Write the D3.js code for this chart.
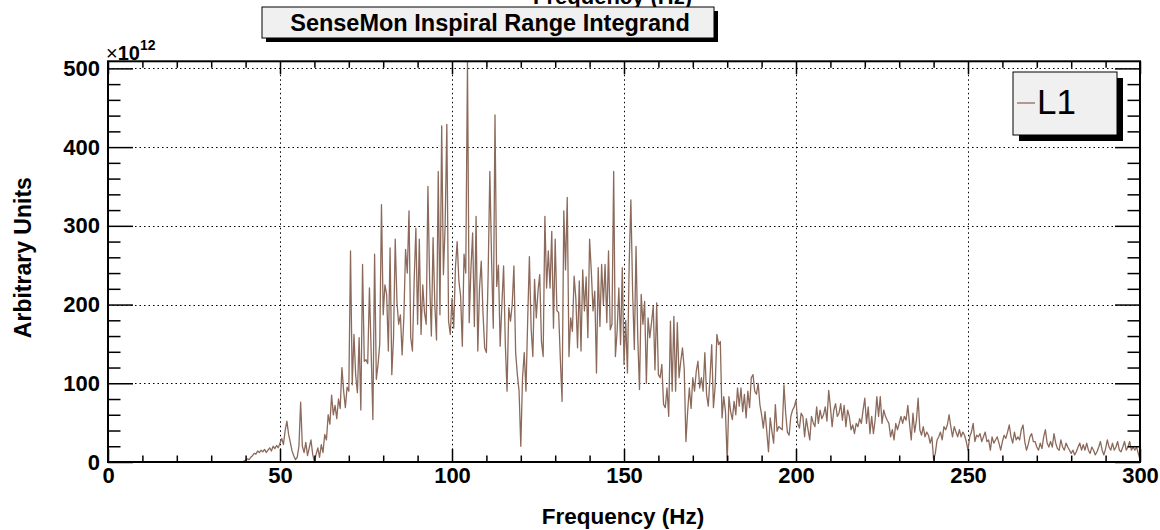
<!DOCTYPE html>
<html>
<head>
<meta charset="utf-8">
<script src="https://cdn.jsdelivr.net/npm/d3@7"></script>
<style>
  body { margin: 0; background: #fff; }
  svg { display: block; font-family: "Liberation Sans", Arial, sans-serif; }
</style>
</head>
<body>
<script>
// Inspiral range integrand, L1, sampled every 0.5 Hz from 38 Hz (flat zero below)
const freqStart = 38;
const freqStep = 0.5;

// 38 - 89.5 Hz
const riseValues = [
  0, 0, 0, 1, 2, 4, 3, 6, 8, 11, 10, 14, 12, 15, 13, 16, 12, 15, 18, 14, 20, 17, 21, 18,
  24, 30, 22, 40, 52, 35, 25, 14, 8, 3, 6, 20, 76, 20, 12, 25, 8, 18, 28, 10,
  0, 10, 18, 6, 22, 12, 35, 28, 60, 48,
  85, 60, 72, 55, 80, 68, 120, 90, 69, 95, 90, 268, 98, 162, 110, 88, 158, 66, 251, 128,
  130, 125, 221, 140, 54, 264, 105, 124, 150, 327, 187, 225, 213, 141, 272, 111, 158, 283, 203, 175,
  187, 136, 183, 270, 240, 319, 158, 141, 230, 297
];

// 90 - 141.5 Hz
const coreValues = [
  175, 283, 162, 225, 190, 175, 350, 230, 160, 285, 200, 155, 369, 187, 427, 238, 300, 429, 179, 162,
  208, 170, 247, 280, 230, 211, 147, 264, 240, 509, 177, 245, 291, 172, 312, 141, 221, 255, 190, 145,
  139, 237, 369, 258, 170, 441, 223, 250, 147, 200, 249, 150, 90, 196, 179, 200, 249, 139, 111, 90,
  20, 107, 139, 90, 180, 261, 170, 134, 232, 183, 217, 238, 153, 134, 312, 221, 268, 221, 293, 170,
  283, 192, 190, 130, 77, 319, 244, 336, 134, 183, 166, 236, 208, 145, 230, 141, 244, 192, 235, 158,
  283, 242, 192, 217
];

// 142 - 300 Hz
const tailValues = [
  113, 247, 172, 251, 200, 251, 177, 268, 168, 175,
  369, 134, 166, 221, 149, 247, 124, 180, 113, 251,
  333, 217, 143, 274, 158, 92, 213, 175, 204, 100,
  183, 158, 177, 198, 117, 202, 111, 107, 124, 73,
  69, 94, 58, 179, 90, 185, 90, 177, 107, 128,
  145, 119, 26, 64, 94, 68, 107, 90, 115, 128,
  94, 107, 90, 139, 86, 71, 107, 149, 69, 96,
  162, 149, 153, 56, 83, 64, 0, 83, 64, 54,
  77, 60, 94, 71, 94, 64, 86, 56, 90, 69,
  107, 111, 90, 86, 100, 73, 60, 43, 64, 39,
  13, 56, 39, 24, 73, 39,
  45, 43, 41, 98, 62, 38, 34, 58, 66, 70,
  79, 49, 43, 62, 58, 32, 55, 41, 28, 58,
  50, 45, 70, 49, 66, 55, 60, 70, 52, 91,
  70, 45, 66, 74, 58, 62,
  74, 53, 72, 45, 66, 58, 41, 47, 36, 49,
  45, 55, 49, 66, 81, 49, 70, 36, 58, 36,
  53, 83, 58, 83, 49, 66, 58, 53, 49, 32,
  41, 28, 49, 41, 49, 58, 49, 58, 53, 72,
  49, 28, 62, 38, 53, 81, 41, 34, 45, 32,
  38, 34, 24, 32, 3, 11, 28, 32, 38, 28,
  45, 41, 47, 60, 45, 32, 45, 38, 32, 41,
  32, 38, 34, 26, 15, 32, 38, 49, 26, 34,
  32, 36, 26, 32, 38, 26, 28, 15, 32, 24,
  28, 32, 24, 15, 26, 34, 30, 38, 47, 32,
  24, 38, 28, 32, 28, 41, 47, 26, 15, 22,
  32, 36, 26, 26, 19, 15, 24, 17, 32, 41,
  24, 19, 26, 19, 36, 24, 17, 15, 28, 19,
  15, 24, 19, 15, 11, 15, 9, 13, 19, 24,
  15, 22, 15, 24, 15, 11, 19, 15, 9, 13,
  19, 26, 15, 9, 17, 28, 19, 15, 24, 15,
  19, 26, 15, 13, 19, 26, 15, 19, 26, 15,
  19, 15, 19, 11, 3
];

const xMajor = [0, 50, 100, 150, 200, 250, 300];
const xMinor = d3.range(0, 301, 10).filter(d => d % 50 !== 0);
const yMajor = [0, 100, 200, 300, 400, 500];
const yMinor = d3.range(0, 509, 20).filter(d => d % 100 !== 0);

const titleText = "SenseMon Inspiral Range Integrand";
const legendLabel = "L1";
const lineColor = "#8c6a5b";

const values = riseValues.concat(coreValues, tailValues);
const data = [{f: 0, v: 0}].concat(values.map((v, i) => ({f: freqStart + i * freqStep, v})));

// dimensions
const width = 1160, height = 530;
const plotLeft = 108, plotRight = 1140, plotTop = 61.3, plotBottom = 462;

const x = d3.scaleLinear([0, 300], [plotLeft, plotRight]);
const y = d3.scaleLinear([0, 509], [plotBottom, plotTop]);

const svg = d3.select("body").append("svg")
    .attr("width", width)
    .attr("height", height)
    .attr("viewBox", [0, 0, width, height]);

// top title hidden behind the title box, only its lower edge shows
svg.append("text")
    .attr("x", 692).attr("y", 4)
    .attr("text-anchor", "end")
    .attr("font-weight", "bold")
    .attr("font-size", 22)
    .text("Frequency (Hz)");

// grid
const grid = svg.append("g")
    .attr("stroke", "#000")
    .attr("stroke-width", 1)
    .attr("stroke-dasharray", "1.5,3");
grid.selectAll(".gx").data(xMajor.filter(d => d > 0 && d < 300)).join("line")
    .attr("x1", d => x(d) + 0.5).attr("x2", d => x(d) + 0.5)
    .attr("y1", plotTop).attr("y2", plotBottom);
grid.selectAll(".gy").data(yMajor.filter(d => d > 0)).join("line")
    .attr("x1", plotLeft).attr("x2", plotRight)
    .attr("y1", d => Math.round(y(d)) + 0.5).attr("y2", d => Math.round(y(d)) + 0.5);

// curve
svg.append("clipPath").attr("id", "plot")
  .append("rect").attr("x", plotLeft).attr("y", plotTop)
    .attr("width", plotRight - plotLeft).attr("height", plotBottom - plotTop);

const line = d3.line()
    .x(d => x(d.f))
    .y(d => y(d.v));

svg.append("path")
    .datum(data)
    .attr("clip-path", "url(#plot)")
    .attr("fill", "none")
    .attr("stroke", lineColor)
    .attr("stroke-width", 1.3)
    .attr("stroke-linejoin", "round")
    .attr("d", line);

// axes (ticks point inward, ROOT style)
function styleAxis(g) {
  g.select(".domain").remove();
  g.selectAll(".tick line").attr("stroke", "#000").attr("stroke-width", 1.5);
  g.selectAll(".tick text")
    .attr("fill", "#000")
    .attr("font-family", "Liberation Sans, Arial, sans-serif")
    .attr("font-weight", "bold")
    .attr("font-size", 22);
}

svg.append("g")
    .attr("transform", `translate(0,${plotBottom})`)
    .call(d3.axisBottom(x).tickValues(xMajor).tickSize(-13).tickPadding(5).tickFormat(d3.format("d")))
    .call(styleAxis);
svg.append("g")
    .attr("transform", `translate(0,${plotBottom})`)
    .call(d3.axisBottom(x).tickValues(xMinor).tickSize(-6.5).tickFormat(""))
    .call(styleAxis);
svg.append("g")
    .attr("transform", `translate(0,${plotTop})`)
    .call(d3.axisTop(x).tickValues(xMajor).tickSize(-13).tickFormat(""))
    .call(styleAxis);
svg.append("g")
    .attr("transform", `translate(0,${plotTop})`)
    .call(d3.axisTop(x).tickValues(xMinor).tickSize(-6.5).tickFormat(""))
    .call(styleAxis);

svg.append("g")
    .attr("transform", `translate(${plotLeft},0)`)
    .call(d3.axisLeft(y).tickValues(yMajor).tickSize(-25).tickPadding(8).tickFormat(d3.format("d")))
    .call(styleAxis);
svg.append("g")
    .attr("transform", `translate(${plotLeft},0)`)
    .call(d3.axisLeft(y).tickValues(yMinor).tickSize(-12.5).tickFormat(""))
    .call(styleAxis);
svg.append("g")
    .attr("transform", `translate(${plotRight},0)`)
    .call(d3.axisRight(y).tickValues(yMajor).tickSize(-25).tickFormat(""))
    .call(styleAxis);
svg.append("g")
    .attr("transform", `translate(${plotRight},0)`)
    .call(d3.axisRight(y).tickValues(yMinor).tickSize(-12.5).tickFormat(""))
    .call(styleAxis);

// frame
svg.append("rect")
    .attr("x", plotLeft).attr("y", plotTop)
    .attr("width", plotRight - plotLeft).attr("height", plotBottom - plotTop)
    .attr("fill", "none")
    .attr("stroke", "#000")
    .attr("stroke-width", 2);

// exponent label (x10^12)
const expo = svg.append("text")
    .attr("x", 106).attr("y", 60)
    .style("font-size", "20px");
expo.append("tspan").style("font-size", "20px").text("\u00d7");
expo.append("tspan").style("font-size", "20px").style("font-weight", "bold").text("10");
expo.append("tspan").style("font-size", "14px").style("font-weight", "bold").attr("dy", -10).text("12");

// axis titles
svg.append("text")
    .attr("x", x(150) - 1).attr("y", 524)
    .attr("text-anchor", "middle")
    .attr("font-weight", "bold")
    .attr("font-size", 22.5)
    .text("Frequency (Hz)");

svg.append("text")
    .attr("transform", `translate(31,${(plotTop + plotBottom) / 2 - 4}) rotate(-90)`)
    .attr("text-anchor", "middle")
    .attr("font-weight", "bold")
    .attr("font-size", 23)
    .text("Arbitrary Units");

// title box with shadow
const tb = {x: 262, y: 7, w: 452, h: 31};
svg.append("rect").attr("x", tb.x + 4).attr("y", tb.y + 4).attr("width", tb.w).attr("height", tb.h).attr("fill", "#000");
svg.append("rect").attr("x", tb.x).attr("y", tb.y).attr("width", tb.w).attr("height", tb.h)
    .attr("fill", "#f0f0f0").attr("stroke", "#000").attr("stroke-width", 1);
svg.append("text")
    .attr("x", tb.x + tb.w / 2 + 2).attr("y", tb.y + 24)
    .attr("text-anchor", "middle")
    .attr("font-weight", "bold")
    .attr("font-size", 23.5)
    .text(titleText);

// legend with shadow
const lg = {x: 1013, y: 72, w: 104, h: 63};
svg.append("rect").attr("x", lg.x + 6).attr("y", lg.y + 6).attr("width", lg.w).attr("height", lg.h).attr("fill", "#000");
svg.append("rect").attr("x", lg.x).attr("y", lg.y).attr("width", lg.w).attr("height", lg.h)
    .attr("fill", "#f0f0f0").attr("stroke", "#000").attr("stroke-width", 1);
svg.append("line")
    .attr("x1", lg.x + 4).attr("x2", lg.x + 22)
    .attr("y1", lg.y + 31).attr("y2", lg.y + 31)
    .attr("stroke", lineColor).attr("stroke-width", 1.3);
svg.append("text")
    .attr("x", lg.x + 24).attr("y", lg.y + 42)
    .attr("font-size", 35)
    .text(legendLabel);
</script>
</body>
</html>
